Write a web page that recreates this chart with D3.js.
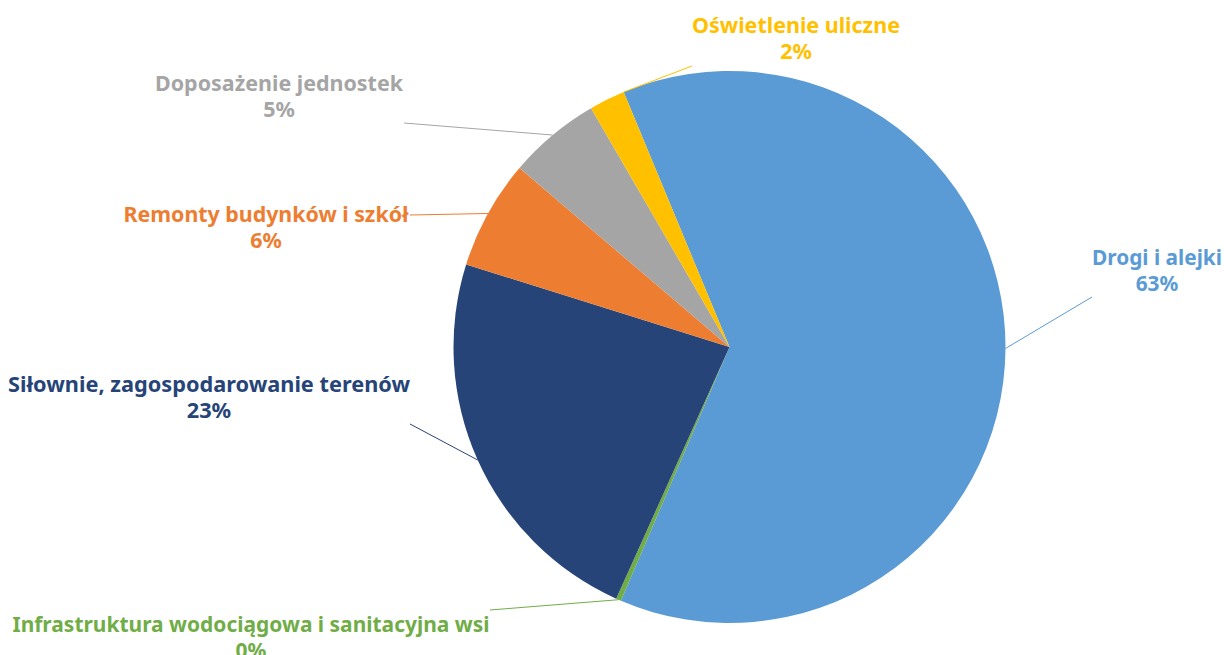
<!DOCTYPE html>
<html>
<head>
<meta charset="utf-8">
<script src="https://cdn.jsdelivr.net/npm/d3@7/dist/d3.min.js"></script>
<style>
  body { margin: 0; background: #fff; }
  svg text { font-family: "Noto Sans", "Open Sans", sans-serif; font-weight: bold; }
</style>
</head>
<body>
<div id="chart"></div>
<script>
// categories in clockwise order, starting from the blue slice
var categories = ["Drogi i alejki", "Infrastruktura wodociągowa i sanitacyjna wsi",
	"Siłownie, zagospodarowanie terenów", "Remonty budynków i szkół",
	"Doposażenie jednostek", "Oświetlenie uliczne"];
var values = [62.7, 0.3, 23.1, 6.4, 5.4, 2.1];
var colors = ["#5B9BD5", "#70AD47", "#264478", "#ED7D31", "#A5A5A5", "#FFC000"];

var width = 1224, height = 655;
var cx = 729.5, cy = 347, radius = 276;
var firstAngle = -22.55 * Math.PI / 180;

// label layout: text centre x, first baseline y, target width of first line,
// leader start point and where on the slice the leader ends (0..1 of its span)
var layout = [
	{ x: 1157, y: 265, w: 130, lx: 1092, ly: 297, at: 0.5 },
	{ x: 251,  y: 632, w: 477, lx: 490,  ly: 610, at: 0.5 },
	{ x: 209,  y: 392, w: 402, lx: 410,  ly: 424, at: 0.5 },
	{ x: 266,  y: 222, w: 285, lx: 410,  ly: 215, at: 0.5 },
	{ x: 279,  y: 91,  w: 248, lx: 404,  ly: 123, at: 0.5 },
	{ x: 796,  y: 33,  w: 208, lx: 692,  ly: 66,  at: 1.0 }
];

var data = categories.map(function(c, i) {
	return { name: c, value: values[i], color: colors[i], pos: layout[i] };
});

var svg = d3.select("#chart").append("svg")
	.attr("width", width)
	.attr("height", height);

var pie = d3.pie()
	.sort(null)
	.value(function(d) { return d.value; })
	.startAngle(firstAngle)
	.endAngle(firstAngle + 2 * Math.PI);

var arc = d3.arc().innerRadius(0).outerRadius(radius);

var arcs = pie(data);

var g = svg.append("g").attr("transform", "translate(" + cx + "," + cy + ")");

g.selectAll("path")
	.data(arcs)
	.enter()
	.append("path")
	.attr("d", arc)
	.attr("fill", function(d) { return d.data.color; });

// leader lines
svg.selectAll("line.lead")
	.data(arcs)
	.enter()
	.append("line")
	.attr("class", "lead")
	.attr("x1", function(d) { return d.data.pos.lx; })
	.attr("y1", function(d) { return d.data.pos.ly; })
	.attr("x2", function(d) {
		var a = d.startAngle + (d.endAngle - d.startAngle) * d.data.pos.at;
		return cx + radius * Math.sin(a);
	})
	.attr("y2", function(d) {
		var a = d.startAngle + (d.endAngle - d.startAngle) * d.data.pos.at;
		return cy - radius * Math.cos(a);
	})
	.attr("stroke", function(d) { return d.data.color; })
	.attr("stroke-width", 1);

// labels
var fontSize = 22;
var labels = svg.selectAll("text.label")
	.data(data)
	.enter()
	.append("text")
	.attr("class", "label")
	.attr("text-anchor", "middle")
	.attr("font-size", fontSize)
	.attr("fill", function(d) { return d.color; });

labels.each(function(d) {
	var t = d3.select(this);
	var l1 = t.append("tspan")
		.attr("x", d.pos.x)
		.attr("y", d.pos.y)
		.text(d.name);
	var l2 = t.append("tspan")
		.attr("x", d.pos.x)
		.attr("y", d.pos.y + 26)
		.text(Math.round(d.value) + "%");
	var k = d.pos.w / l1.node().getComputedTextLength();
	l1.attr("textLength", d.pos.w).attr("lengthAdjust", "spacingAndGlyphs");
	var w2 = l2.node().getComputedTextLength() * k;
	l2.attr("textLength", w2).attr("lengthAdjust", "spacingAndGlyphs");
});
</script>
</body>
</html>
